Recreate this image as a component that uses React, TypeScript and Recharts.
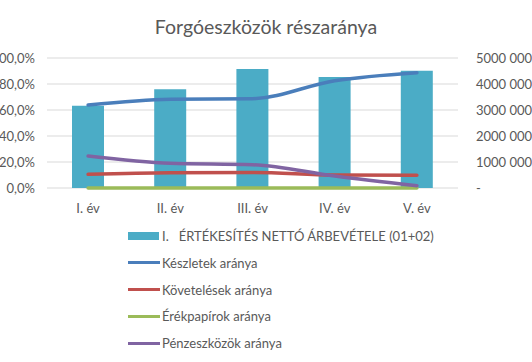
import React from 'react';
import { ComposedChart, Bar, Line, XAxis, YAxis, CartesianGrid } from 'recharts';

const categories = ['I. év', 'II. év', 'III. év', 'IV. év', 'V. év'];
const arbevetel = [3165000, 3800000, 4580000, 4270000, 4510000];
const keszletek = [0.638, 0.682, 0.687, 0.825, 0.887];
const kovetelesek = [0.105, 0.118, 0.12, 0.1, 0.098];
const ertekpapirok = [0, 0, 0, 0, 0];
const penzeszkozok = [0.246, 0.19, 0.179, 0.092, 0.018];

const leftTicks = [0, 0.2, 0.4, 0.6, 0.8, 1];
const leftTickLabels = ['0,0%', '20,0%', '40,0%', '60,0%', '80,0%', '100,0%'];
const rightTicks = [0, 1000000, 2000000, 3000000, 4000000, 5000000];
const rightTickLabels = ['-', '1000 000', '2000 000', '3000 000', '4000 000', '5000 000'];

const barSeries = { key: 'arbevetel', name: 'I.   ÉRTÉKESÍTÉS NETTÓ ÁRBEVÉTELE (01+02)', color: '#4BACC6' };
const lineSeries = [
  { key: 'keszletek', name: 'Készletek aránya', color: '#4A7EBB' },
  { key: 'kovetelesek', name: 'Követelések aránya', color: '#C0504D' },
  { key: 'ertekpapirok', name: 'Érékpapírok aránya', color: '#9BBB59' },
  { key: 'penzeszkozok', name: 'Pénzeszközök aránya', color: '#8064A2' },
];

const data = categories.map((cat, i) => ({
  cat,
  arbevetel: arbevetel[i],
  keszletek: keszletek[i],
  kovetelesek: kovetelesek[i],
  ertekpapirok: ertekpapirok[i],
  penzeszkozok: penzeszkozok[i],
}));

const FONT = 'Lato, "Liberation Sans", sans-serif';
const GRAY = '#595959';

export default function App() {
  return (
    <div style={{ position: 'absolute', left: 0, top: 0, width: 532, height: 362, background: '#fff', fontFamily: FONT }}>
      <div style={{ position: 'absolute', top: 15, left: 0, width: 532, textAlign: 'center', fontSize: 19.5, color: GRAY }}>
        Forgóeszközök részaránya
      </div>
      <ComposedChart width={532} height={362} data={data} margin={{ top: 58, right: 0, left: 0, bottom: 144 }}>
        <CartesianGrid yAxisId="left" vertical={false} stroke="#d9d9d9" />
        <XAxis
          dataKey="cat"
          axisLine={false}
          tickLine={false}
          height={30}
          tickMargin={10}
          tick={{ fill: GRAY, fontSize: 13, fontFamily: FONT }}
        />
        <YAxis
          yAxisId="left"
          width={47}
          domain={[0, 1]}
          ticks={leftTicks}
          axisLine={false}
          tickLine={false}
          tickMargin={6}
          tickFormatter={(v) => leftTickLabels[leftTicks.indexOf(v)]}
          tick={{ fill: GRAY, fontSize: 13, fontFamily: FONT }}
        />
        <YAxis
          yAxisId="right"
          orientation="right"
          width={74}
          domain={[0, 5000000]}
          ticks={rightTicks}
          axisLine={false}
          tickLine={false}
          tickMargin={12}
          tickFormatter={(v) => rightTickLabels[rightTicks.indexOf(v)]}
          tick={{ fill: GRAY, fontSize: 13, fontFamily: FONT, textAnchor: 'start' }}
        />
        <Bar yAxisId="right" dataKey={barSeries.key} fill={barSeries.color} barSize={32} isAnimationActive={false} />
        {lineSeries.map((s) => (
          <Line
            key={s.key}
            yAxisId="left"
            type="monotone"
            dataKey={s.key}
            stroke={s.color}
            strokeWidth={3.5}
            strokeLinecap="round"
            dot={false}
            activeDot={false}
            isAnimationActive={false}
          />
        ))}
      </ComposedChart>
      <div style={{ position: 'absolute', left: 128, top: 227, fontSize: 13, color: GRAY }}>
        <div style={{ display: 'flex', alignItems: 'center', height: 18, marginBottom: 8.8 }}>
          <span style={{ width: 31, height: 8, background: barSeries.color, marginRight: 3 }} />
          <span style={{ whiteSpace: 'pre' }}>{barSeries.name}</span>
        </div>
        {lineSeries.map((s) => (
          <div key={s.key} style={{ display: 'flex', alignItems: 'center', height: 18, marginBottom: 8.8 }}>
            <span style={{ width: 32, height: 3, background: s.color, marginRight: 2 }} />
            <span>{s.name}</span>
          </div>
        ))}
      </div>
    </div>
  );
}
